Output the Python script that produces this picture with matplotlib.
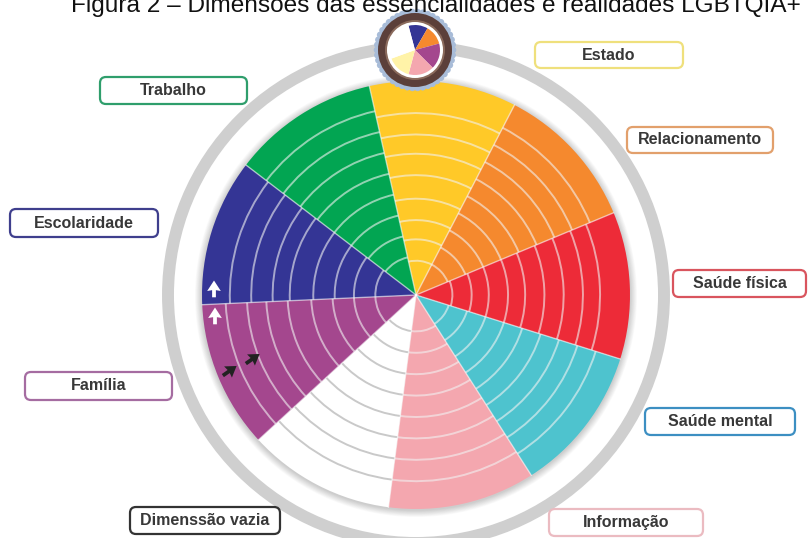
import numpy as np
import matplotlib
matplotlib.use("Agg")
import matplotlib.pyplot as plt
from matplotlib.patches import Wedge, Arc, Circle, FancyBboxPatch, Polygon

# ---------------- data ----------------
dimensions = ["Estado", "Relacionamento", "Saúde física", "Saúde mental", "Informação",
              "Dimenssão vazia", "Família", "Escolaridade", "Trabalho"]
sector_colors = ["#FFC928", "#F5892E", "#ED2B38", "#4EC3CE", "#F4A7AF",
                 "#FFFFFF", "#A4478E", "#343595", "#02A552"]
border_colors = ["#EFE07C", "#E2A06C", "#D9555E", "#3C8FC2", "#EBBBC1",
                 "#333333", "#A56CA1", "#3F3F8D", "#2F9E6C"]
# concentric level lines in each sector (radius as share of the wheel radius)
levels = [
    [0.16, 0.26, 0.35, 0.45, 0.56, 0.66, 0.75, 0.85],
    [0.16, 0.25, 0.34, 0.43, 0.52, 0.61, 0.70, 0.79, 0.88],
    [0.17, 0.26, 0.34, 0.43, 0.51, 0.60, 0.69, 0.78, 0.86],
    [0.16, 0.25, 0.34, 0.43, 0.52, 0.61, 0.70, 0.79, 0.88],
    [0.17, 0.27, 0.37, 0.47, 0.57, 0.67, 0.77, 0.87],
    [0.17, 0.27, 0.37, 0.47, 0.57, 0.67, 0.77, 0.87],
    [0.19, 0.29, 0.39, 0.49, 0.60, 0.70, 0.79, 0.89],
    [0.19, 0.29, 0.38, 0.48, 0.59, 0.67, 0.77, 0.87],
    [0.18, 0.28, 0.38, 0.48, 0.58, 0.68, 0.78, 0.88],
]
title = "Figura 2 – Dimensões das essencialidades e realidades LGBTQIA+"

# ---------------- layout ----------------
W, H = 810, 538
fig = plt.figure(figsize=(W / 100, H / 100), dpi=100)
ax = fig.add_axes([0, 0, 1, 1])
ax.set_xlim(0, W)
ax.set_ylim(0, H)
ax.axis("off")

def Y(y):
    return H - y

cx, cy = 416, Y(295)
R = 214
start = 102.6
step = 360 / len(dimensions)

# outer grey ring
ax.add_patch(Circle((cx, cy), 248, fill=False, lw=8.6, ec="#CFCFCF", zorder=1))

# soft shadow under wheel
for i in range(10):
    ax.add_patch(Circle((cx, cy - 1), R + 7 - i * 0.7, color="#000000", alpha=0.018, lw=0, zorder=2))

for i, (name, col) in enumerate(zip(dimensions, sector_colors)):
    t2 = start - i * step
    t1 = t2 - step
    ax.add_patch(Wedge((cx, cy), R, t1, t2, fc=col, ec="none", zorder=3))
    lc = "#C6C6C6" if col == "#FFFFFF" else "#F2F2F2"
    la = 0.95 if col == "#FFFFFF" else 0.6
    for f in levels[i]:
        ax.add_patch(Arc((cx, cy), 2 * R * f, 2 * R * f, theta1=t1, theta2=t2,
                         lw=1.4, color=lc, alpha=la, zorder=4))
    # separator
    a = np.deg2rad(t2)
    ax.plot([cx, cx + R * np.cos(a)], [cy, cy + R * np.sin(a)],
            color="#FFFFFF", alpha=0.55, lw=1.0, zorder=5)

# label boxes  (x0, y0, x1, y1 in pixels from top-left)
boxes = [
    (535, 42, 683, 68), (627, 127, 773, 153), (673, 270, 806, 297),
    (645, 408, 795, 435), (549, 509, 703, 536), (130, 507, 280, 534),
    (25, 372, 172, 400), (10, 209, 158, 237), (100, 77, 247, 104),
]
for name, bc, (x0, y0, x1, y1) in zip(dimensions, border_colors, boxes):
    ax.add_patch(FancyBboxPatch((x0, Y(y1)), x1 - x0, y1 - y0,
                                boxstyle="round,pad=0,rounding_size=6",
                                fc="white", ec=bc, lw=1.6, zorder=6))
    ax.text((x0 + x1) / 2, Y((y0 + y1) / 2), name, ha="center", va="center",
            fontsize=11.5, fontweight="bold", color="#383838",
            family="Liberation Sans", zorder=7)

# arrows (tree-like pointer marks)
arrow_shape = np.array([[0, 1.0], [-0.65, 0.0], [-0.18, 0.08], [-0.18, -0.6],
                        [0.18, -0.6], [0.18, 0.08], [0.65, 0.0]])
arrows = [((214, 291), 0, "white"), ((215, 318), 0, "white"),
          ((228, 372), -55, "#222222"), ((251, 360), -55, "#222222")]
for (px, py), rot, c in arrows:
    a = np.deg2rad(rot)
    rm = np.array([[np.cos(a), -np.sin(a)], [np.sin(a), np.cos(a)]])
    pts = arrow_shape @ rm.T * 10.5 + np.array([px, Y(py)])
    ax.add_patch(Polygon(pts, closed=True, fc=c, ec="none", zorder=8))

# small thumbnail of the wheel on top
tx, ty = 415, Y(50)
n_b = 46
for k in range(n_b):
    a = 2 * np.pi * k / n_b
    ax.add_patch(Circle((tx + 38 * np.cos(a), ty + 38 * np.sin(a)), 3.3,
                        fc="#A8BCD8", ec="none", zorder=9))
ax.add_patch(Circle((tx, ty), 37, fc="#5B3F3A", ec="none", zorder=10))
ax.add_patch(Circle((tx, ty), 30, fc="#8A6A5C", ec="none", zorder=10))
ax.add_patch(Circle((tx, ty), 28, fc="white", ec="none", zorder=11))
thumb_cols = ["#343595", "#F5892E", "#A4478E", "#F4A7AF", "#FFF3A8", "#FFFFFF"]
thumb_edges = [105, 60, 15, -45, -105, -160, -255]
for k, c in enumerate(thumb_cols):
    ax.add_patch(Wedge((tx, ty), 25, thumb_edges[k + 1], thumb_edges[k], fc=c, ec="none", zorder=12))

# title (cut at top of the picture, as in the source)
ax.text(436, Y(12), title, ha="center", va="baseline", fontsize=17.6,
        family="Liberation Sans", color="#111111", zorder=10)

fig.savefig("out.png", dpi=100)
